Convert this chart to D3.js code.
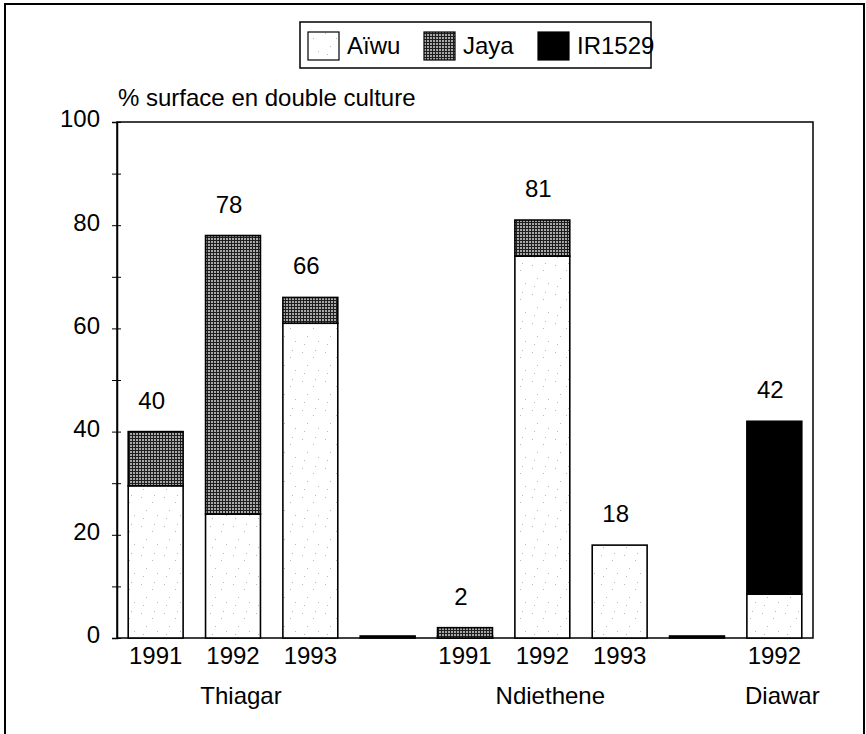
<!DOCTYPE html>
<html>
<head>
<meta charset="utf-8">
<script src="https://cdn.jsdelivr.net/npm/d3@7"></script>
<style>
  body { margin: 0; background: #fff; }
  svg text { font-family: "Liberation Sans", Arial, sans-serif; fill: #000; }
</style>
</head>
<body>
<div id="chart"></div>
<script>
// categories along the x axis (blank ones are the gaps between sites)
var years = ["1991", "1992", "1993", "", "1991", "1992", "1993", "", "1992"];
var sites = [
    { name: "Thiagar", from: 0, to: 2 },
    { name: "Ndiethene", from: 4, to: 6 },
    { name: "Diawar", from: 8, to: 8 }
];
var aiwu   = [29.5, 24, 61, 0, 0, 74, 18, 0, 8.5];
var jaya   = [10.5, 54,  5, 0, 2,  7,  0, 0, 0];
var ir1529 = [0,     0,  0, 0, 0,  0,  0, 0, 33.5];
var totals = ["40", "78", "66", "", "2", "81", "18", "", "42"];
var series = ["Aïwu", "Jaya", "IR1529"];
var yTicks = [0, 10, 20, 30, 40, 50, 60, 70, 80, 90, 100];

function init() {
    var w = 866, h = 734;
    var x0 = 117, x1 = 813, yTop = 122, yBot = 638;
    var fs = 24; // font size of all texts

    var svg = d3.select("#chart").append("svg")
                .attr("width", w)
                .attr("height", h);

    // patterns for the scanned fills
    var defs = svg.append("defs");
    var pj = defs.append("pattern")
                 .attr("id", "jaya")
                 .attr("patternUnits", "userSpaceOnUse")
                 .attr("width", 3).attr("height", 3);
    pj.append("rect").attr("width", 3).attr("height", 3).attr("fill", "#a8a8a8");
    pj.append("rect").attr("width", 3).attr("height", 1).attr("fill", "#1e1e1e");
    pj.append("rect").attr("width", 1).attr("height", 3).attr("fill", "#1e1e1e");

    var pa = defs.append("pattern")
                 .attr("id", "aiwu")
                 .attr("patternUnits", "userSpaceOnUse")
                 .attr("width", 23).attr("height", 29);
    pa.append("rect").attr("width", 23).attr("height", 29).attr("fill", "#fff");
    [[3, 4], [14, 9], [8, 17], [19, 22], [5, 25], [16, 2]].forEach(function(p) {
        pa.append("rect").attr("x", p[0]).attr("y", p[1])
          .attr("width", 1).attr("height", 1).attr("fill", "#b8b8b8");
    });

    var fills = { "Aïwu": "url(#aiwu)", "Jaya": "url(#jaya)", "IR1529": "#000" };

    // outer frame
    svg.append("path")
       .attr("d", "M5,740 V4 H864 V740")
       .attr("fill", "none")
       .attr("stroke", "#000")
       .attr("stroke-width", 2);

    var x = d3.scaleBand()
              .domain(d3.range(years.length))
              .range([x0, x1])
              .paddingInner(0.29)
              .paddingOuter(0.145);

    var y = d3.scaleLinear()
              .domain([0, 100])
              .range([yBot, yTop]);

    // plot frame (top, right, bottom)
    svg.append("rect")
       .attr("x", x0).attr("y", yTop)
       .attr("width", x1 - x0).attr("height", yBot - yTop)
       .attr("fill", "none")
       .attr("stroke", "#000")
       .attr("stroke-width", 1.5);

    // stacked bars
    var rows = years.map(function(d, i) {
        return { i: i, "Aïwu": aiwu[i], "Jaya": jaya[i], "IR1529": ir1529[i] };
    });
    var stack = d3.stack().keys(series)(rows);

    stack.forEach(function(layer) {
        svg.append("g").selectAll("rect")
           .data(layer)
           .enter()
           .filter(function(d) { return d[1] - d[0] > 0 || layer.key === "Aïwu"; })
           .append("rect")
           .attr("x", function(d) { return x(d.data.i); })
           .attr("y", function(d) { return Math.min(y(d[1]), yBot - 2); })
           .attr("width", x.bandwidth())
           .attr("height", function(d) { return Math.max(y(d[0]) - y(d[1]), 2); })
           .attr("fill", function(d) { return d[1] - d[0] > 0 ? fills[layer.key] : "#000"; })
           .attr("stroke", "#000")
           .attr("stroke-width", 1.6);
    });

    // value labels
    svg.append("g").selectAll("text")
       .data(rows)
       .enter()
       .append("text")
       .attr("x", function(d) { return x(d.i) + x.bandwidth() / 2 - 4; })
       .attr("y", function(d) { return y(aiwu[d.i] + jaya[d.i] + ir1529[d.i]) - 23; })
       .attr("text-anchor", "middle")
       .attr("font-size", fs)
       .text(function(d) { return totals[d.i]; });

    // year labels
    svg.append("g").selectAll("text")
       .data(years)
       .enter()
       .append("text")
       .attr("x", function(d, i) { return x(i) + x.bandwidth() / 2; })
       .attr("y", 664)
       .attr("text-anchor", "middle")
       .attr("font-size", fs)
       .text(function(d) { return d; });

    // site labels
    svg.append("g").selectAll("text")
       .data(sites)
       .enter()
       .append("text")
       .attr("x", function(d) { return (x(d.from) + x(d.to) + x.bandwidth()) / 2 + 8; })
       .attr("y", 704)
       .attr("text-anchor", "middle")
       .attr("font-size", fs)
       .text(function(d) { return d.name; });

    // y axis, ticks crossing the line
    var axisL = d3.axisLeft(y)
                  .tickValues(yTicks)
                  .tickSize(5)
                  .tickPadding(12)
                  .tickFormat(function(d) { return d % 20 === 0 ? d : ""; });
    var gy = svg.append("g")
                .attr("transform", "translate(" + x0 + ",0)")
                .call(axisL);
    gy.select(".domain").attr("stroke-width", 1.5);
    gy.selectAll("text")
      .attr("font-size", fs)
      .attr("font-family", "Liberation Sans, Arial, sans-serif")
      .attr("dy", "0.2em");

    var axisR = d3.axisRight(y)
                  .tickValues(yTicks)
                  .tickSize(4)
                  .tickFormat("");
    var gr = svg.append("g")
                .attr("transform", "translate(" + x0 + ",0)")
                .call(axisR);
    gr.select(".domain").remove();

    svg.append("text")
       .attr("x", 118)
       .attr("y", 106)
       .attr("font-size", fs)
       .text("% surface en double culture");

    // legend
    var lg = svg.append("g");
    lg.append("rect")
      .attr("x", 300).attr("y", 22)
      .attr("width", 351).attr("height", 46)
      .attr("fill", "#fff")
      .attr("stroke", "#000")
      .attr("stroke-width", 1.5);
    var legX = [308, 424, 538];
    series.forEach(function(s, i) {
        lg.append("rect")
          .attr("x", legX[i]).attr("y", 32)
          .attr("width", 31).attr("height", 28)
          .attr("fill", fills[s])
          .attr("stroke", "#000")
          .attr("stroke-width", 1.2);
        lg.append("text")
          .attr("x", legX[i] + 39)
          .attr("y", 54)
          .attr("font-size", fs)
          .text(s);
    });
}

window.onload = init;
</script>
</body>
</html>
